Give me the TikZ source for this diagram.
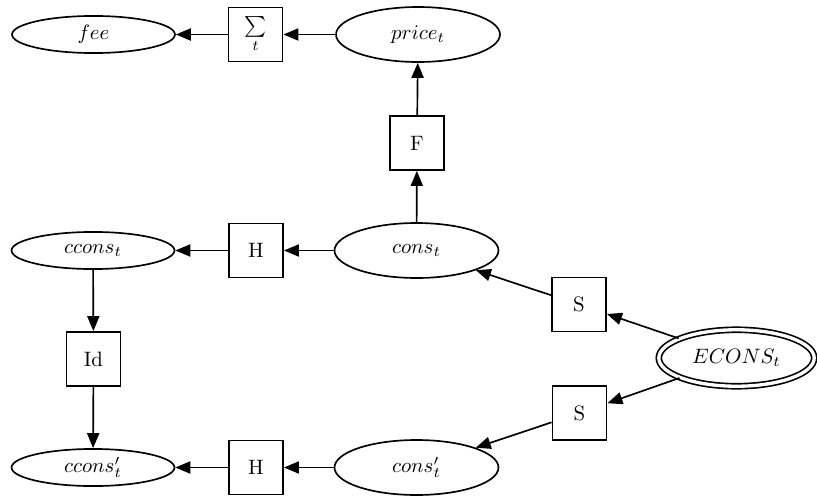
\documentclass[tikz,border=0pt]{standalone}
\usetikzlibrary{arrows.meta,shapes.geometric}
\begin{document}
\begin{tikzpicture}[x=0.48pt,y=-0.48pt,line width=0.8pt,
  var/.style={draw,ellipse,inner sep=0pt,minimum width=78.2pt,minimum height=17.8pt},
  bigvar/.style={draw,ellipse,inner sep=0pt,minimum width=78.7pt,minimum height=26.4pt},
  evar/.style={draw,ellipse,inner sep=0pt,minimum width=74.6pt,minimum height=27.1pt,double,double distance=1.6pt},
  fbox/.style={draw,rectangle,inner sep=0pt,minimum width=26pt,minimum height=26pt},
  conn/.style={-{Triangle[length=7.2pt,width=5.8pt]}}]
\useasboundingbox (0,0) rectangle (817,500);
\node[var] (fee) at (93.5,34.5) {$fee$};
\node[fbox] (sum) at (255.5,34.5) {$\sum\limits_t$};
\node[bigvar] (price) at (418,34.5) {$price_t$};
\node[fbox] (F) at (417,143) {F};
\node[bigvar] (cons) at (416.5,250.5) {$cons_t$};
\node[fbox] (H1) at (256,250.5) {H};
\node[var] (ccons) at (93,250.5) {$ccons_t$};
\node[fbox] (Id) at (93.5,359) {Id};
\node[fbox] (S1) at (579,304.5) {S};
\node[fbox] (S2) at (579.5,413) {S};
\node[evar] (E) at (736.5,358) {$ECONS_t$};
\node[bigvar] (consp) at (416.5,467.5) {$cons'_t$};
\node[fbox] (H2) at (256,467.5) {H};
\node[var] (cconsp) at (93,467.5) {$ccons'_t$};
\draw[conn] (sum) -- (fee);
\draw[conn] (price) -- (sum);
\draw[conn] (F) -- (price);
\draw[conn] (cons) -- (F);
\draw[conn] (cons) -- (H1);
\draw[conn] (H1) -- (ccons);
\draw[conn] (ccons) -- (Id);
\draw[conn] (Id) -- (cconsp);
\draw[conn] (consp) -- (H2);
\draw[conn] (H2) -- (cconsp);
\draw[conn] (E) -- (S1);
\draw[conn] (S1) -- (cons);
\draw[conn] (E) -- (S2);
\draw[conn] (S2) -- (consp);
\end{tikzpicture}
\end{document}
